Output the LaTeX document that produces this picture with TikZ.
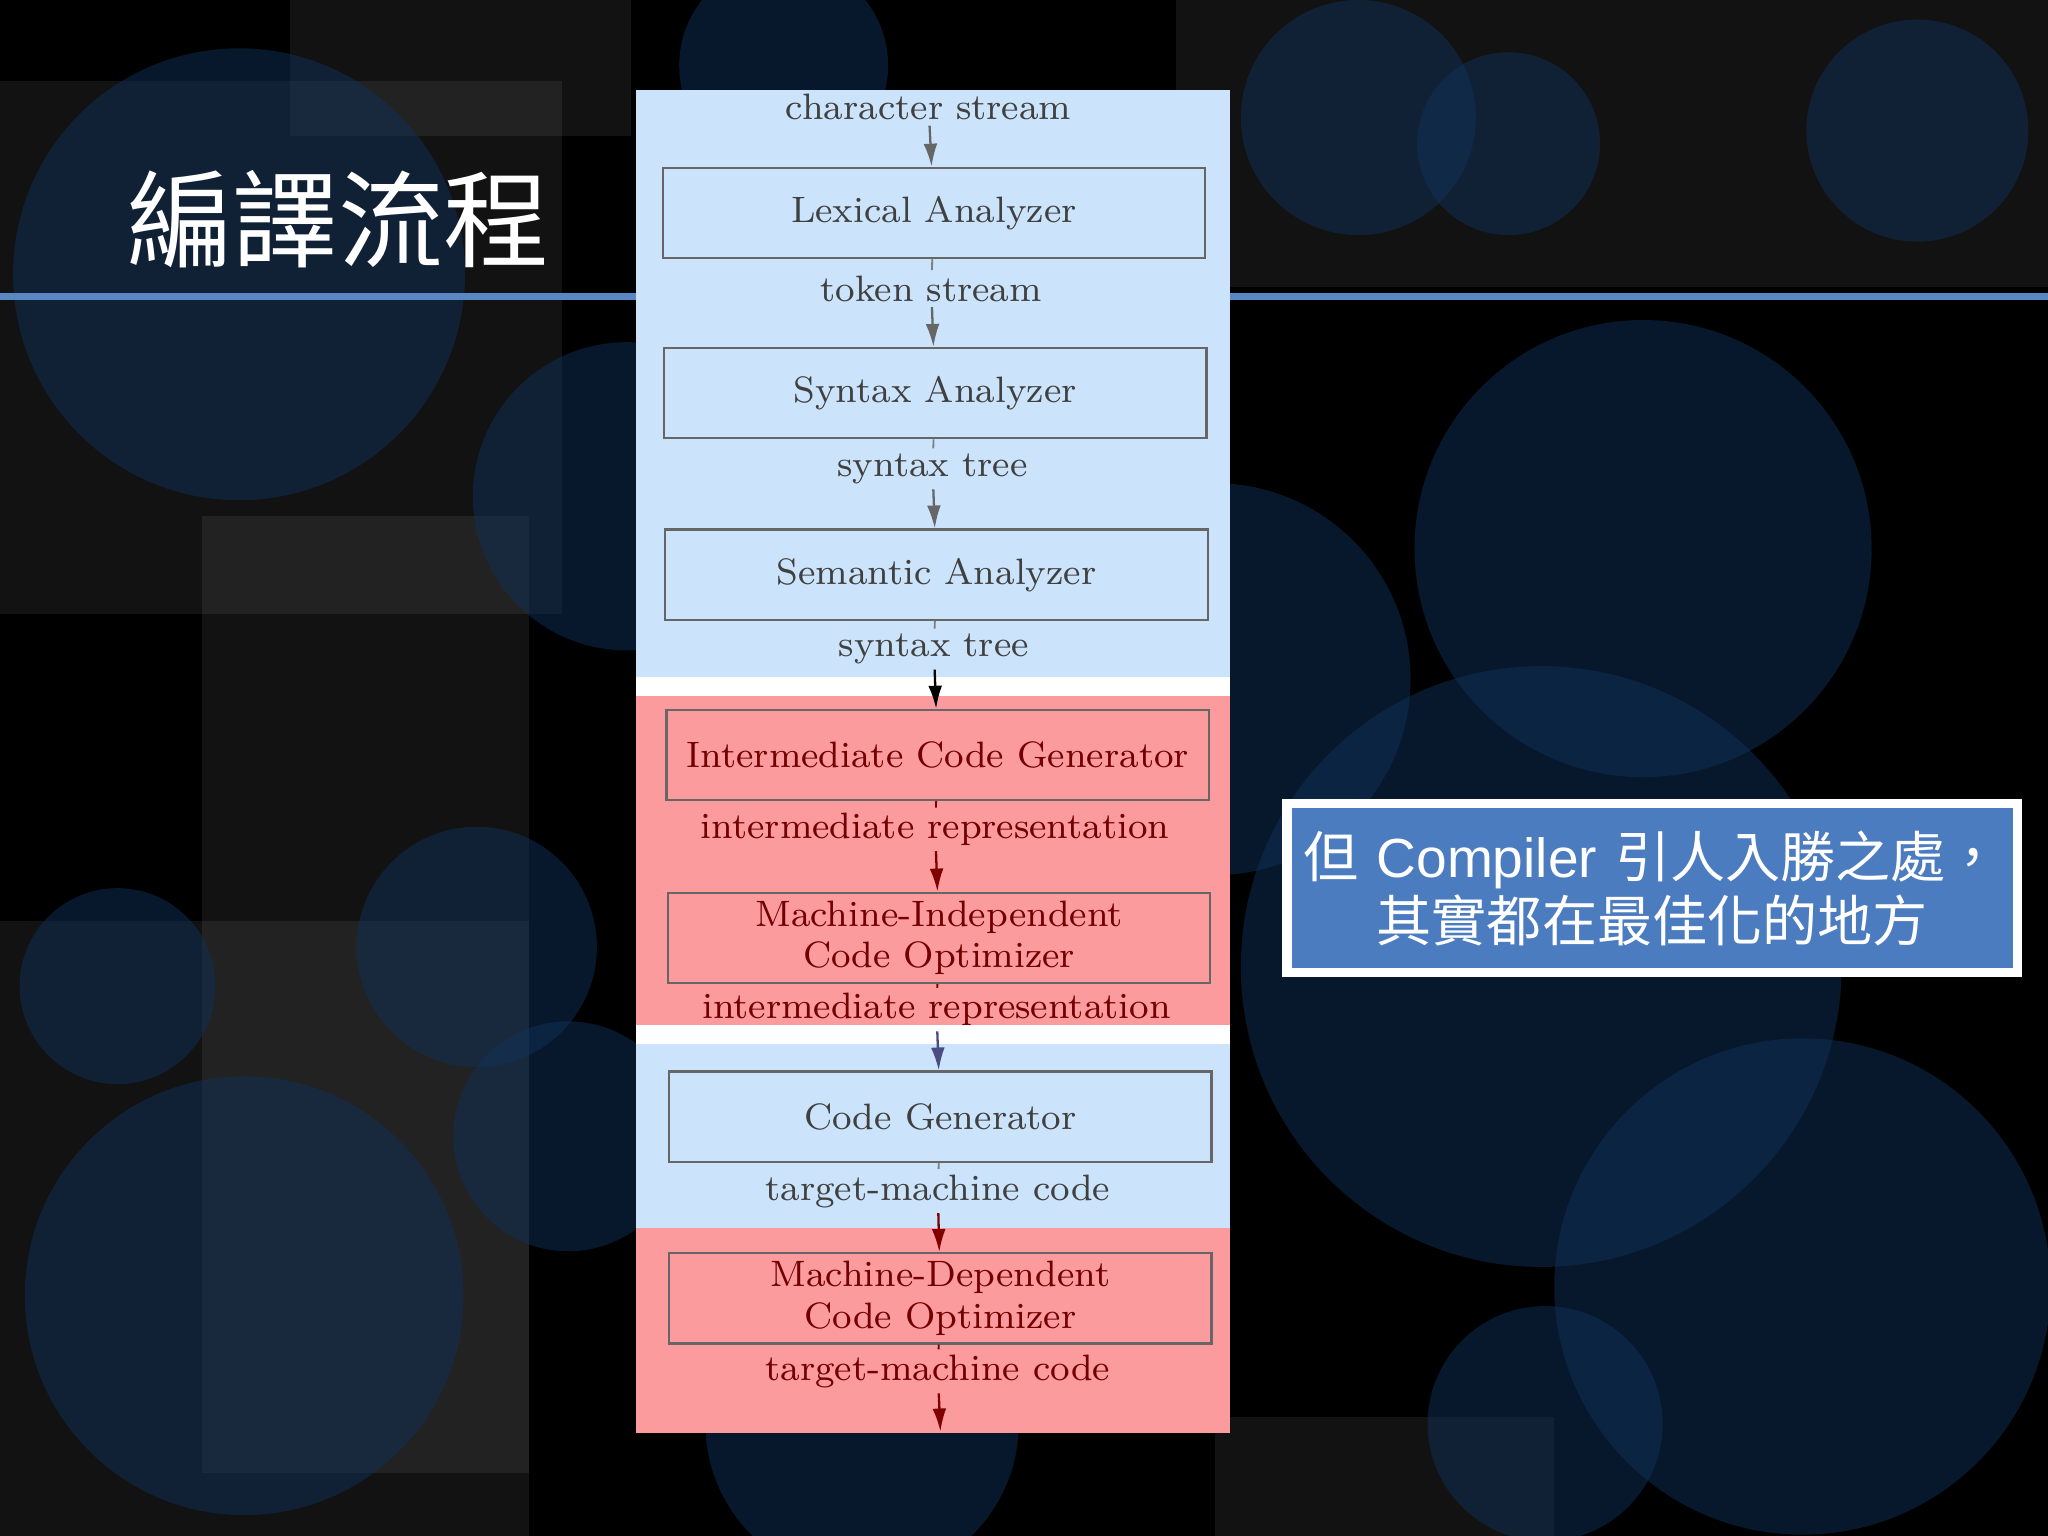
\documentclass[tikz,border=0pt]{standalone}
\usepackage{fontspec}
\newfontfamily\cjk{Noto Sans CJK TC}
\newfontfamily\lsans{Liberation Sans}
\usetikzlibrary{arrows.meta}
\definecolor{pblue}{HTML}{CCE4FB}
\definecolor{pred}{HTML}{FC9B9E}
\definecolor{callblue}{HTML}{4C7CC0}
\definecolor{rulecol}{HTML}{5A86C4}
\definecolor{circcol}{HTML}{0F3158}
\begin{document}
\begin{tikzpicture}[x=0.01cm,y=-0.01cm,
  stage/.style={draw=black!60,line width=0.5pt,minimum width=4.15cm,minimum height=0.69cm,inner sep=0pt,align=center,font=\fontsize{8}{9}\selectfont,text=black!75},
  bluestage/.style={stage,fill=pblue},
  redstage/.style={stage,fill=pred, text=red!45!black},
  lab/.style={font=\fontsize{8}{9}\selectfont,inner sep=1pt},
  flow/.style={draw=black!60,-{Latex[length=5pt,width=3pt]},line width=0.5pt},
  link/.style={draw=black!50,line width=0.4pt},
  circ/.style={fill=circcol,opacity=0.5},
  rectg/.style={fill=white,opacity=0.07}]
\useasboundingbox (0,0) rectangle (1568,1176);
\fill[black] (0,0) rectangle (1568,1176);
\fill[rectg] (0,62) rectangle (430,470);
\fill[rectg] (222,0) rectangle (483,104);
\fill[rectg] (155,395) rectangle (405,1128);
\fill[rectg] (0,705) rectangle (405,1176);
\fill[rectg] (900,0) rectangle (1568,220);
\fill[rectg] (930,1085) rectangle (1190,1176);
\fill[circ] (183,210) circle (173);
\fill[circ] (480,380) circle (118);
\fill[circ] (365,725) circle (92);
\fill[circ] (90,755) circle (75);
\fill[circ] (435,870) circle (88);
\fill[circ] (187,992) circle (168);
\fill[circ] (1258,420) circle (175);
\fill[circ] (1180,740) circle (230);
\fill[circ] (1380,985) circle (190);
\fill[circ] (1183,1090) circle (90);
\fill[circ] (1040,90) circle (90);
\fill[circ] (1155,110) circle (70);
\fill[circ] (1468,100) circle (85);
\fill[circ] (600,50) circle (80);
\fill[circ] (930,520) circle (150);
\fill[circ] (660,1090) circle (120);
\fill[rulecol] (0,224) rectangle (1568,230);
\node[font=\cjk\fontsize{23}{26}\selectfont,text=white] (title) at (259,168) {編譯流程};
\fill[pblue] (487,69) rectangle (942,518);
\fill[white] (487,518) rectangle (942,533);
\fill[pred] (487,533) rectangle (942,785);
\fill[white] (487,785) rectangle (942,799);
\fill[pblue] (487,799) rectangle (942,940);
\fill[pred] (487,940) rectangle (942,1097);
\node[lab,text=black!75] (l0) at (711,82) {character stream};
\node[bluestage] (s1) at (715,163) {Lexical Analyzer};
\node[lab,text=black!75] (l1) at (713,221) {token stream};
\node[bluestage] (s2) at (716,301) {Syntax Analyzer};
\node[lab,text=black!75] (l2) at (714,359) {syntax tree};
\node[bluestage] (s3) at (717,440) {Semantic Analyzer};
\node[lab,text=black!75] (l3) at (715,497) {syntax tree};
\node[redstage] (s4) at (718,578) {Intermediate Code Generator};
\node[lab,text=red!45!black] (l4) at (716,635) {intermediate representation};
\node[redstage] (s5) at (719,718) {Machine-Independent\\Code Optimizer};
\node[lab,text=red!45!black] (l5) at (717,773) {intermediate representation};
\node[bluestage] (s6) at (720,855) {Code Generator};
\node[lab,text=black!75] (l6) at (718,912) {target-machine code};
\node[redstage] (s7) at (720,994) {Machine-Dependent\\Code Optimizer};
\node[lab,text=red!45!black] (l7) at (718,1050) {target-machine code};
\coordinate (end) at (720,1096);
\draw[flow] (l0) -- (s1);
\draw[link] (s1) -- (l1); \draw[flow] (l1) -- (s2);
\draw[link] (s2) -- (l2); \draw[flow] (l2) -- (s3);
\draw[link] (s3) -- (l3); \draw[flow,draw=black] (l3) -- (s4);
\draw[link,draw=red!50!black] (s4) -- (l4); \draw[flow,draw=red!50!black] (l4) -- (s5);
\draw[link,draw=red!50!black] (s5) -- (l5); \draw[flow,draw=blue!30!black!70] (l5) -- (s6);
\draw[link] (s6) -- (l6); \draw[flow,draw=red!50!black] (l6) -- (s7);
\draw[link,draw=red!50!black] (s7) -- (l7); \draw[flow,draw=red!50!black] (l7) -- (end);
\node[draw=white,line width=2pt,fill=callblue,minimum width=5.59cm,minimum height=1.29cm,text=white,align=center,font=\fontsize{12}{14}\selectfont,inner sep=2pt] (note) at (1265,680) {{\cjk 但} {\lsans Compiler} {\cjk 引人入勝之處，}\\{\cjk 其實都在最佳化的地方}};
\end{tikzpicture}
\end{document}
